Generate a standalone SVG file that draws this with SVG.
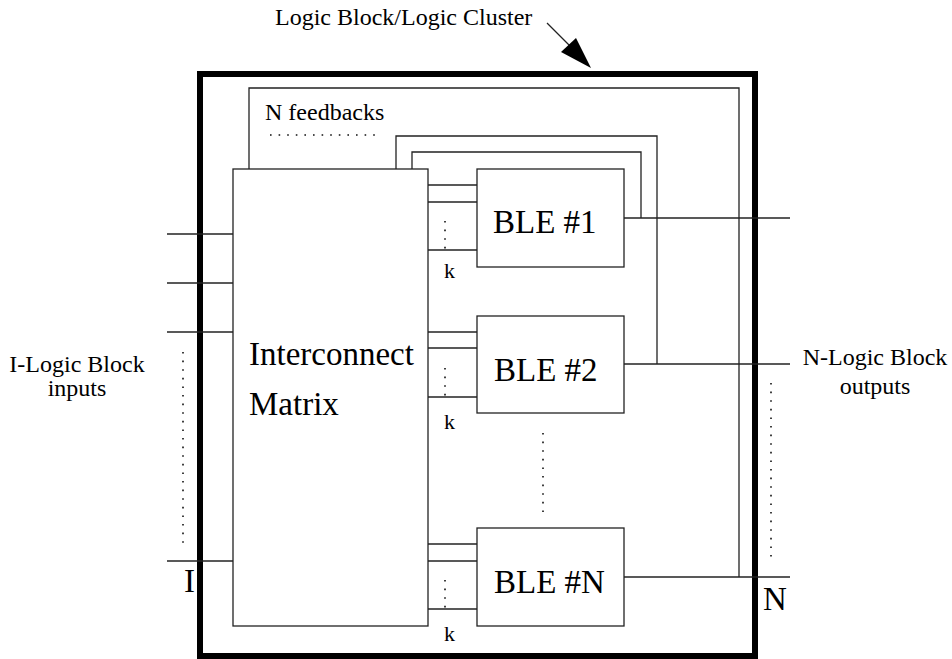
<svg xmlns="http://www.w3.org/2000/svg" width="952" height="659" viewBox="0 0 952 659">
<style>
.ln{fill:none;stroke:#222;stroke-width:1.3}
.box{fill:#fff;stroke:#222;stroke-width:1.3}
.dot{fill:none;stroke:#111;stroke-width:1.6;stroke-dasharray:1.6 7}
text{font-family:"Liberation Serif","Times New Roman",serif;fill:#000}
.big{font-size:33px}
.mid{font-size:24px}
.sm{font-size:22px}
</style>
<rect width="952" height="659" fill="#fff"/>
<g id="cluster">
<rect x="200" y="74" width="555" height="582" fill="none" stroke="#000" stroke-width="6"/>
</g>
<g id="connectors">
<polyline class="ln" points="249,169 249,88 739,88 739,577"/>
<polyline class="ln" points="396,169 396,136 657,136 657,364"/>
<polyline class="ln" points="412,169 412,152 641,152 641,218"/>
<line class="ln" x1="167" y1="234" x2="233" y2="234"/>
<line class="ln" x1="167" y1="283" x2="233" y2="283"/>
<line class="ln" x1="167" y1="332" x2="233" y2="332"/>
<line class="ln" x1="167" y1="561" x2="233" y2="561"/>
<line class="ln" x1="428" y1="185" x2="477" y2="185"/>
<line class="ln" x1="428" y1="202" x2="477" y2="202"/>
<line class="ln" x1="428" y1="250" x2="477" y2="250"/>
<line class="ln" x1="428" y1="332" x2="477" y2="332"/>
<line class="ln" x1="428" y1="348" x2="477" y2="348"/>
<line class="ln" x1="428" y1="397" x2="477" y2="397"/>
<line class="ln" x1="428" y1="544" x2="477" y2="544"/>
<line class="ln" x1="428" y1="561" x2="477" y2="561"/>
<line class="ln" x1="428" y1="609" x2="477" y2="609"/>
<line class="ln" x1="624" y1="218" x2="790" y2="218"/>
<line class="ln" x1="624" y1="364" x2="790" y2="364"/>
<line class="ln" x1="624" y1="577" x2="790" y2="577"/>
<line class="ln" x1="547" y1="23" x2="572" y2="48"/>
<polygon points="591,68 561,52 576,38" fill="#000"/>
<line class="dot" x1="270" y1="135" x2="380" y2="135"/>
<line class="dot" x1="183" y1="352" x2="183" y2="545"/>
<line class="dot" x1="771" y1="383" x2="771" y2="560"/>
<line class="dot" x1="445" y1="221" x2="445" y2="249"/>
<line class="dot" x1="445" y1="368" x2="445" y2="396"/>
<line class="dot" x1="445" y1="580" x2="445" y2="608"/>
<line class="dot" x1="543" y1="433" x2="543" y2="512"/>
</g>
<g id="matrix">
<rect class="box" x="233" y="169" width="195" height="457"/>
<text class="big" x="249" y="365">Interconnect</text>
<text class="big" x="249" y="415">Matrix</text>
</g>
<g id="ble1">
<rect class="box" x="477" y="169" width="147" height="98"/>
<text class="big" x="493" y="233">BLE #1</text>
<text class="sm" x="444" y="278">k</text>
</g>
<g id="ble2">
<rect class="box" x="477" y="316" width="147" height="97"/>
<text class="big" x="494" y="381">BLE #2</text>
<text class="sm" x="444" y="429">k</text>
</g>
<g id="bleN">
<rect class="box" x="477" y="528" width="147" height="98"/>
<text class="big" x="494" y="593">BLE #N</text>
<text class="sm" x="444" y="641">k</text>
</g>
<g id="labels">
<text class="mid" x="275" y="25">Logic Block/Logic Cluster</text>
<text class="mid" x="265" y="120">N feedbacks</text>
<text class="mid" x="77" y="372" text-anchor="middle">I-Logic Block</text>
<text class="mid" x="77" y="396" text-anchor="middle">inputs</text>
<text class="mid" x="875" y="365" text-anchor="middle">N-Logic Block</text>
<text class="mid" x="875" y="394" text-anchor="middle">outputs</text>
<text class="big" x="184" y="592">I</text>
<text class="big" x="763" y="610">N</text>
</g>
</svg>
